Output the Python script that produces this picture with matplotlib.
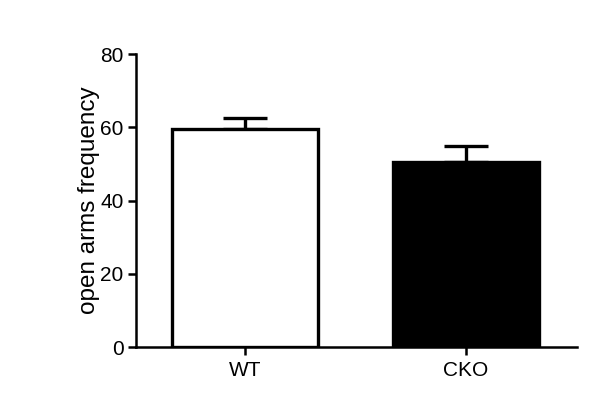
import matplotlib.pyplot as plt
import numpy as np

plt.rcParams['font.family'] = ['Liberation Sans', 'DejaVu Sans']

groups = ["WT", "CKO"]
means = [59.5, 50.6]
errors = [3.0, 4.3]
fills = ["white", "black"]
yticks = [0, 20, 40, 60, 80]

fig = plt.figure(figsize=(6, 3.98), dpi=100)
ax = fig.add_axes([0.2267, 0.128, 0.735, 0.736])

x = np.arange(len(groups))
ax.bar(x, means, width=0.66, color=fills, edgecolor="black", linewidth=2.4, zorder=2)
# upper error bar only
ax.errorbar(x, means, yerr=[[0, 0], errors], fmt="none", ecolor="black",
            elinewidth=2.4, capsize=16, capthick=2.4, zorder=1)

ax.set_xlim(-0.493, 1.502)
ax.set_ylim(0, 80)
ax.set_xticks(x)
ax.set_xticklabels(groups)
ax.set_yticks(yticks)
ax.set_ylabel("open arms frequency", fontsize=17.5, labelpad=0)

for s in ["top", "right"]:
    ax.spines[s].set_visible(False)
ax.spines["left"].set_linewidth(1.8)
ax.spines["bottom"].set_linewidth(1.8)
ax.tick_params(axis="both", labelsize=15, width=1.8, length=6, direction="out")
ax.tick_params(axis="x", pad=4)
ax.tick_params(axis="y", pad=3)

fig.savefig("out.png", dpi=100)
